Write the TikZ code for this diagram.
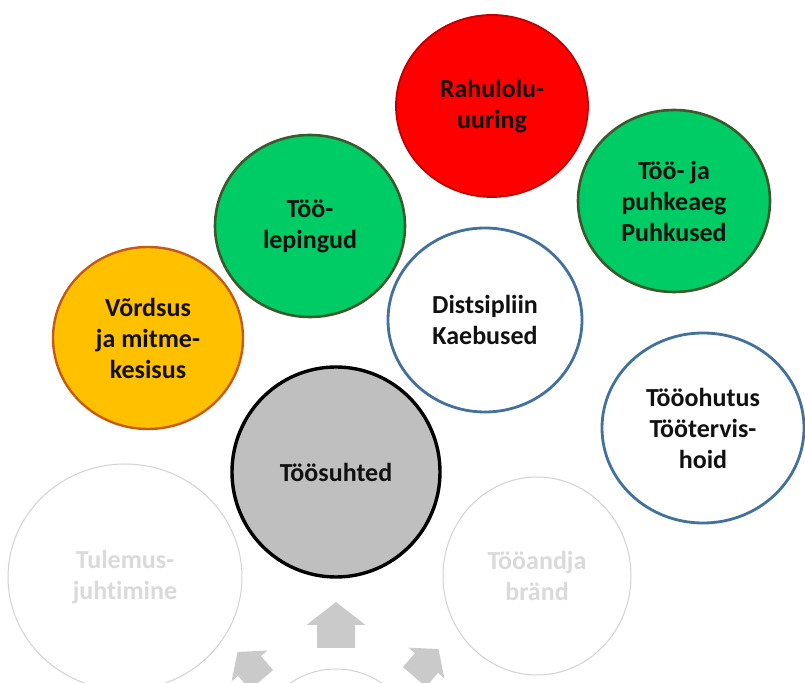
\documentclass[tikz,border=0pt]{standalone}
\usepackage{fontspec}
\setmainfont{Carlito}[Ligatures=NoCommon]
\usepackage{tikz}
\usetikzlibrary{shapes.geometric}
\definecolor{TsRed}{HTML}{FF0000}
\definecolor{TsRedLine}{HTML}{C00000}
\definecolor{TsGreen}{HTML}{00CC66}
\definecolor{TsGreenLine}{HTML}{3B5A2B}
\definecolor{TsYellow}{HTML}{FFC000}
\definecolor{TsYellowLine}{HTML}{C55A11}
\definecolor{TsBlueLine}{HTML}{41719C}
\definecolor{TsGray}{HTML}{BFBFBF}
\definecolor{TsFaded}{HTML}{D2D2D2}
\definecolor{TsFadedText}{HTML}{DADADA}
\definecolor{TsArrow}{HTML}{CACACA}
\definecolor{TsText}{HTML}{111111}
\tikzset{
  tsnode/.style={ellipse, inner sep=0pt, align=center, text=TsText,
                 font=\fontsize{26}{31}\selectfont\bfseries},
  tssize/.style 2 args={minimum width=#1pt, minimum height=#2pt},
  tsred/.style={tsnode, draw=TsRedLine, fill=TsRed, line width=1.8pt},
  tsgreen/.style={tsnode, draw=TsGreenLine, fill=TsGreen, line width=2.6pt},
  tsyellow/.style={tsnode, draw=TsYellowLine, fill=TsYellow, line width=2.4pt},
  tsblue/.style={tsnode, draw=TsBlueLine, fill=white, line width=2.8pt},
  tscore/.style={tsnode, draw=black, fill=TsGray, line width=3.4pt},
  tsfaded/.style={tsnode, draw=TsFaded, fill=white, line width=1pt, text=TsFadedText},
  tsarrow/.style={fill=TsArrow}
}

\begin{document}
\begin{tikzpicture}[x=1pt, y=1pt]
\useasboundingbox (0,0) rectangle (805,682);
% faded lower ring
\node[tsfaded, tssize={162}{162}] (hub) at (336,-68) {};
\node[tsfaded, tssize={234}{226}] (tulemus) at (125,105) {Tulemus-\\juhtimine};
\node[tsfaded, tssize={188}{198}] (brand) at (537,106) {Tööandja\\bränd};
% block arrows around the hub
\foreach \ox/\oy/\rot/\sc in {336/34/0/1, 261.5/2.1/40.6/0.8, 414.5/5/-40.6/0.8}
  \fill[tsarrow, shift={(\ox,\oy)}, rotate=\rot, scale=\sc]
    (-19,0) -- (-19,23) -- (-29.5,23) -- (0,46) -- (29.5,23) -- (19,23) -- (19,0) -- cycle;
% coloured topics
\node[tscore, tssize={208}{210}] (suhted) at (336,210) {Töösuhted};
\node[tsyellow, tssize={190}{182}] (vordsus) at (148,344) {Võrdsus\\ja mitme-\\kesisus};
\node[tsgreen, tssize={190}{182}] (lepingud) at (310,456) {Töö-\\lepingud};
\node[tsred, tssize={192}{182}] (rahulolu) at (492,576) {Rahulolu-\\uuring};
\node[tsgreen, tssize={192}{182}] (puhkeaeg) at (674,481) {Töö- ja\\puhkeaeg\\Puhkused};
\node[tsblue, tssize={194}{184}] (distsipliin) at (485,362) {Distsipliin\\Kaebused};
\node[tsblue, tssize={202}{190}] (ohutus) at (703,254) {Tööohutus\\Töötervis-\\hoid};
\end{tikzpicture}
\end{document}
